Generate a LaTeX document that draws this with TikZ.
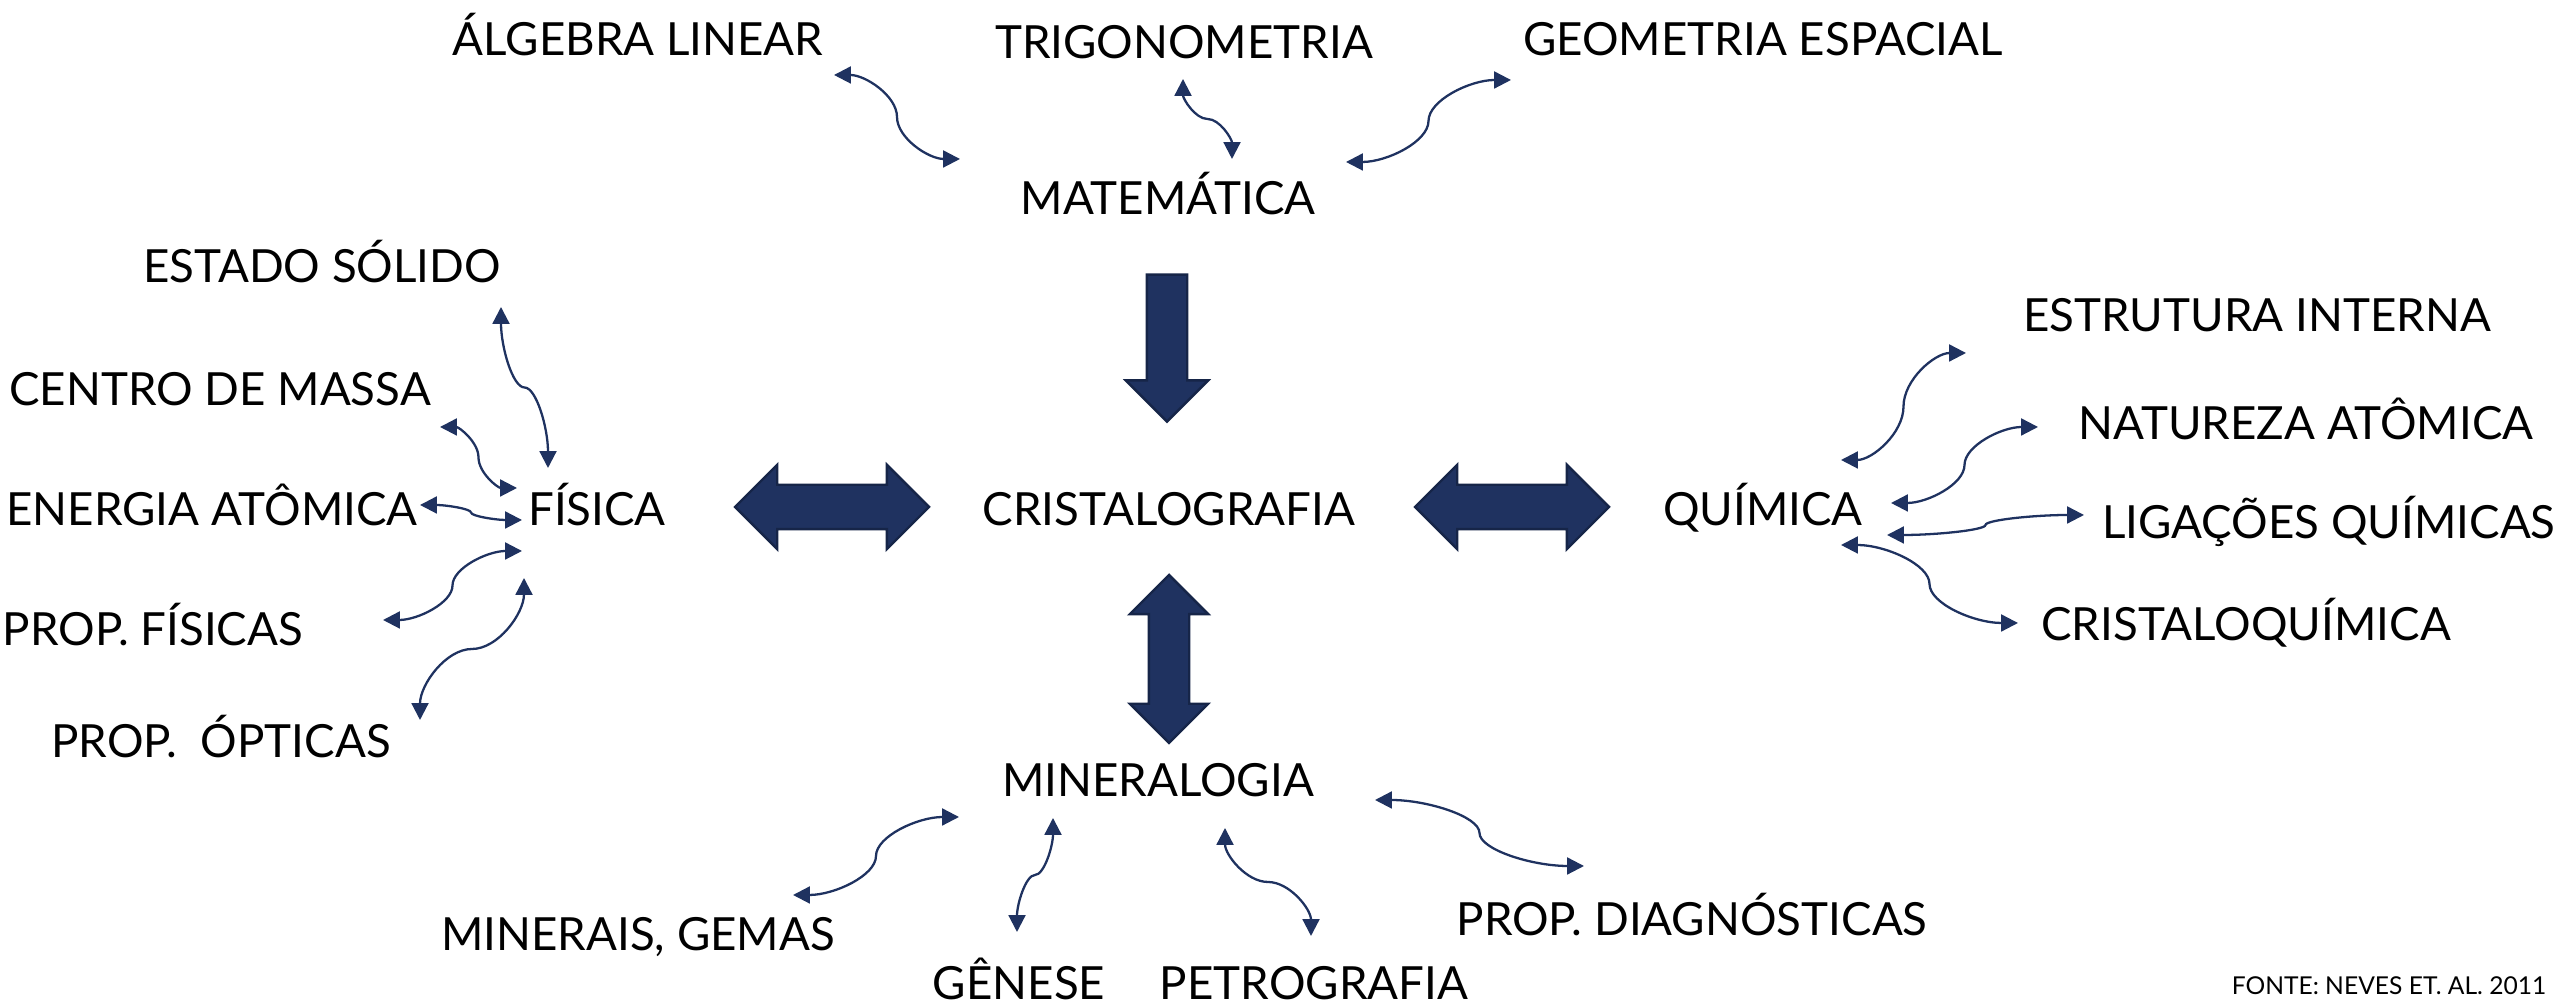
\documentclass[tikz,border=0pt]{standalone}
\usepackage{fontspec}
\setmainfont{Lato}
\usepackage{tikz}
\usetikzlibrary{arrows.meta,shapes.arrows,calc}
\definecolor{navy}{RGB}{31,50,96}
\definecolor{navyedge}{RGB}{22,37,72}

\begin{document}
\begin{tikzpicture}[
  font=\fontsize{13}{15}\selectfont, >={Triangle[length=4.8pt,width=4.8pt]},
  tx/.style={inner sep=0pt, text height=11.9pt, text depth=2.5pt},
  blk/.style={fill=navy, draw=navyedge, line width=0.7pt},
  dbl/.style={blk, double arrow, double arrow tip angle=90, minimum height=#1, inner sep=0.21cm, double arrow head extend=0.2cm},
  link/.style={<->, draw=navy, line width=0.65pt},
  hcurve/.style={to path={let \p1=(\tikztostart), \p2=(\tikztotarget) in
    .. controls ({(3*\x1+\x2)/4},\y1) and ({(\x1+\x2)/2},{(3*\y1+\y2)/4}) .. ({(\x1+\x2)/2},{(\y1+\y2)/2})
    .. controls ({(\x1+\x2)/2},{(\y1+3*\y2)/4}) and ({(\x1+3*\x2)/4},\y2) .. (\tikztotarget)}},
  vcurve/.style={to path={let \p1=(\tikztostart), \p2=(\tikztotarget) in
    .. controls (\x1,{(3*\y1+\y2)/4}) and ({(3*\x1+\x2)/4},{(\y1+\y2)/2}) .. ({(\x1+\x2)/2},{(\y1+\y2)/2})
    .. controls ({(\x1+3*\x2)/4},{(\y1+\y2)/2}) and (\x2,{(\y1+3*\y2)/4}) .. (\tikztotarget)}},
]
\useasboundingbox (0,0) rectangle (25.6,10.08);
\node[tx] (alg) at (6.38,9.69) {ÁLGEBRA LINEAR};
\node[tx] (trig) at (11.84,9.66) {TRIGONOMETRIA};
\node[tx] (geo) at (17.63,9.69) {GEOMETRIA ESPACIAL};
\node[tx] (mat) at (11.68,8.10) {MATEMÁTICA};
\node[tx] (solido) at (3.22,7.42) {ESTADO SÓLIDO};
\node[tx] (massa) at (2.20,6.19) {CENTRO DE MASSA};
\node[tx] (energia) at (2.12,4.99) {ENERGIA ATÔMICA};
\node[tx] (fis) at (5.97,4.99) {FÍSICA};
\node[tx] (cri) at (11.69,4.99) {CRISTALOGRAFIA};
\node[tx] (qui) at (17.63,4.99) {QUÍMICA};
\node[tx] (estr) at (22.57,6.93) {ESTRUTURA INTERNA};
\node[tx] (nat) at (23.06,5.85) {NATUREZA ATÔMICA};
\node[tx] (lig) at (23.29,4.86) {LIGAÇÕES QUÍMICAS};
\node[tx] (crq) at (22.46,3.84) {CRISTALOQUÍMICA};
\node[tx] (pfis) at (1.53,3.79) {PROP. FÍSICAS};
\node[tx] (popt) at (2.21,2.67) {PROP.\ \ ÓPTICAS};
\node[tx] (mine) at (11.58,2.28) {MINERALOGIA};
\node[tx] (gem) at (6.38,0.74) {MINERAIS, GEMAS};
\node[tx] (gen) at (10.19,0.25) {GÊNESE};
\node[tx] (pet) at (13.14,0.25) {PETROGRAFIA};
\node[tx] (diag) at (16.92,0.89) {PROP. DIAGNÓSTICAS};
\node[font=\fontsize{7}{8}\selectfont] (fonte) at (23.89,0.22) {FONTE: NEVES ET. AL. 2011};
\node[blk, single arrow, rotate=-90, minimum height=1.47cm, inner sep=0.19cm, single arrow head extend=0.21cm] (m2c) at (11.67,6.70) {};
\node[dbl=1.94cm] (f2c) at (8.32,5.01) {};
\node[dbl=1.94cm] (c2q) at (15.12,5.01) {};
\node[dbl=1.68cm, rotate=90, inner sep=0.19cm, double arrow head extend=0.19cm] (c2m) at (11.69,3.49) {};
\draw[link, hcurve] ([shift={(1.96,-0.36)}]alg.center) to ([shift={(-2.08,0.39)}]mat.center);
\draw[link, vcurve] ([shift={(-0.01,-0.37)}]trig.center) to ([shift={(0.64,0.39)}]mat.center);
\draw[link, hcurve] ([shift={(1.78,0.36)}]mat.center) to ([shift={(-2.52,-0.41)}]geo.center);
\draw[link, vcurve] ([shift={(1.79,-0.41)}]solido.center) to ([shift={(-0.49,0.41)}]fis.center);
\draw[link, hcurve] ([shift={(2.20,-0.38)}]massa.center) to ([shift={(-0.80,0.21)}]fis.center);
\draw[link, hcurve] ([shift={(2.08,0.04)}]energia.center) to ([shift={(-0.75,-0.11)}]fis.center);
\draw[link, hcurve] ([shift={(2.30,0.09)}]pfis.center) to ([shift={(-0.75,-0.42)}]fis.center);
\draw[link, vcurve] ([shift={(-0.73,-0.69)}]fis.center) to ([shift={(1.99,0.21)}]popt.center);
\draw[link, hcurve] ([shift={(0.78,0.49)}]qui.center) to ([shift={(-2.91,-0.38)}]estr.center);
\draw[link, hcurve] ([shift={(1.28,0.06)}]qui.center) to ([shift={(-2.68,-0.04)}]nat.center);
\draw[link, hcurve] ([shift={(1.24,-0.26)}]qui.center) to ([shift={(-2.45,0.07)}]lig.center);
\draw[link, hcurve] ([shift={(0.78,-0.36)}]qui.center) to ([shift={(-2.28,0.01)}]crq.center);
\draw[link, hcurve] ([shift={(1.55,0.39)}]gem.center) to ([shift={(-1.99,-0.37)}]mine.center);
\draw[link, vcurve] ([shift={(-1.05,-0.38)}]mine.center) to ([shift={(-0.02,0.51)}]gen.center);
\draw[link, vcurve] ([shift={(0.67,-0.48)}]mine.center) to ([shift={(-0.03,0.47)}]pet.center);
\draw[link, hcurve] ([shift={(2.17,-0.20)}]mine.center) to ([shift={(-1.08,0.53)}]diag.center);
\end{tikzpicture}
\end{document}
